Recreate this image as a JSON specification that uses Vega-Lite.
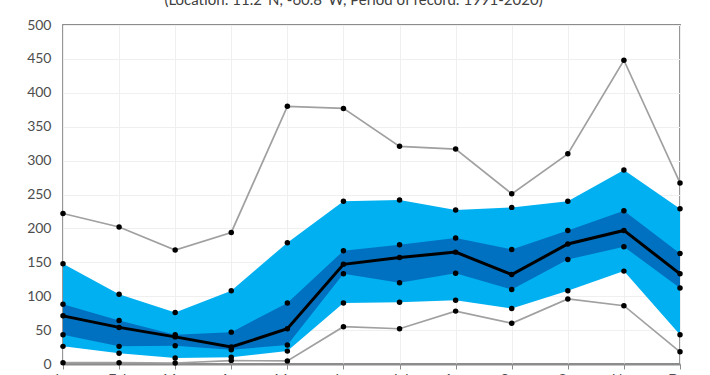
{
  "$schema": "https://vega.github.io/schema/vega-lite/v6.json",
  "width": 617,
  "height": 339,
  "autosize": {"type": "none"},
  "padding": {"left": 63, "top": 25, "right": 30, "bottom": 11},
  "background": "white",
  "title": {
    "text": "(Location: 11.2°N, -60.8°W, Period of record: 1991-2020)",
    "font": "Lato",
    "fontSize": 15,
    "fontWeight": "normal",
    "color": "#404040",
    "anchor": "middle",
    "frame": "group",
    "dx": -18,
    "baseline": "bottom",
    "offset": -5
  },
  "config": {
    "view": {"stroke": "#8c8c8c", "strokeWidth": 1.8},
    "axis": {"labelFont": "Lato", "labelFontSize": 14, "labelColor": "#4d4d4d", "titleFont": "Lato"},
    "axisY": {"tickCount": 10, "labelOverlap": false}
  },
  "data": {
    "values": [
      {"month": "Jan", "max": 222, "p90": 148, "p75": 88, "med": 71, "p25": 43, "p10": 26, "min": 2},
      {"month": "Feb", "max": 202, "p90": 103, "p75": 64, "med": 54, "p25": 26, "p10": 16, "min": 2},
      {"month": "Mar", "max": 168, "p90": 76, "p75": 43, "med": 40, "p25": 27, "p10": 9, "min": 1.5},
      {"month": "Apr", "max": 194, "p90": 108, "p75": 47, "med": 25, "p25": 21, "p10": 10, "min": 5},
      {"month": "May", "max": 380, "p90": 179, "p75": 90, "med": 52, "p25": 28, "p10": 19, "min": 4.5},
      {"month": "Jun", "max": 377, "p90": 240, "p75": 167, "med": 147, "p25": 133, "p10": 90, "min": 55},
      {"month": "Jul", "max": 321, "p90": 242, "p75": 176, "med": 157, "p25": 120, "p10": 91, "min": 52},
      {"month": "Aug", "max": 317, "p90": 227, "p75": 186, "med": 165, "p25": 134, "p10": 94, "min": 78},
      {"month": "Sep", "max": 251, "p90": 231, "p75": 169, "med": 132, "p25": 110, "p10": 82, "min": 60},
      {"month": "Oct", "max": 310, "p90": 240, "p75": 197, "med": 177, "p25": 154, "p10": 108, "min": 96},
      {"month": "Nov", "max": 448, "p90": 286, "p75": 226, "med": 197, "p25": 173, "p10": 137, "min": 86},
      {"month": "Dec", "max": 267, "p90": 229, "p75": 163, "med": 133, "p25": 112, "p10": 43, "min": 18}
    ]
  },
  "encoding": {
    "x": {
      "field": "month",
      "type": "ordinal",
      "sort": null,
      "scale": {"type": "point", "padding": 0},
      "axis": {
        "title": null,
        "labelAngle": 0,
        "tickSize": 5,
        "tickColor": "#8c8c8c",
        "domainColor": "#8c8c8c",
        "domainWidth": 1.8,
        "grid": true,
        "gridColor": "#efefef",
        "labelPadding": 3,
        "labelOverlap": false
      }
    }
  },
  "layer": [
    {
      "mark": {"type": "area", "color": "#00B0F0", "opacity": 1},
      "encoding": {
        "y": {
          "field": "p10",
          "type": "quantitative",
          "scale": {"domain": [0, 500], "nice": false},
          "axis": {
            "title": null,
            "tickCount": 10,
            "ticks": false,
            "domain": false,
            "grid": true,
            "gridColor": "#efefef",
            "labelPadding": 12,
            "labelOverlap": false
          }
        },
        "y2": {"field": "p90"}
      }
    },
    {
      "mark": {"type": "area", "color": "#0070C0", "opacity": 1},
      "encoding": {
        "y": {"field": "p25", "type": "quantitative"},
        "y2": {"field": "p75"}
      }
    },
    {
      "transform": [{"fold": ["max", "min"], "as": ["stat", "value"]}],
      "mark": {"type": "line", "color": "#a0a0a0", "strokeWidth": 1.7},
      "encoding": {
        "y": {"field": "value", "type": "quantitative"},
        "detail": {"field": "stat"}
      }
    },
    {
      "mark": {"type": "line", "color": "black", "strokeWidth": 3},
      "encoding": {
        "y": {"field": "med", "type": "quantitative"}
      }
    },
    {
      "transform": [{"fold": ["max", "p90", "p75", "med", "p25", "p10", "min"], "as": ["stat", "value"]}],
      "mark": {"type": "point", "filled": true, "color": "black", "size": 30, "opacity": 1},
      "encoding": {
        "y": {"field": "value", "type": "quantitative"}
      }
    }
  ]
}
